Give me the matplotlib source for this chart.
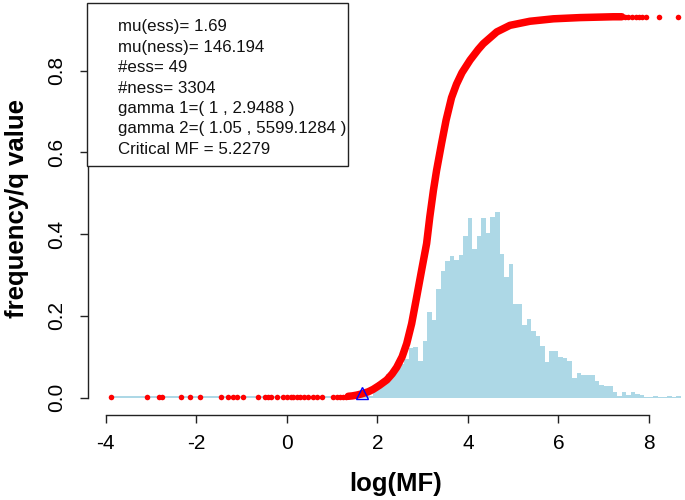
import numpy as np
import matplotlib
matplotlib.use("Agg")
import matplotlib.pyplot as plt
from matplotlib.patches import Rectangle

plt.rcParams['font.family'] = ['Liberation Sans', 'DejaVu Sans']

# ---------------- data ----------------
# histogram (density), bins of width 0.1 starting at 1.9
hist_start = 1.9
hist_width = 0.1
hist_heights = [0.021, 0.038, 0.043, 0.058, 0.065, 0.075, 0.082, 0.094, 0.120, 0.124,
                0.090, 0.139, 0.210, 0.190, 0.266, 0.310, 0.335, 0.346, 0.337, 0.349,
                0.396, 0.439, 0.364, 0.396, 0.439, 0.402, 0.441, 0.453, 0.351, 0.294,
                0.327, 0.229, 0.229, 0.177, 0.192, 0.164, 0.151, 0.127, 0.088, 0.115,
                0.115, 0.098, 0.096, 0.089, 0.048, 0.060, 0.055, 0.055, 0.055, 0.041,
                0.031, 0.029, 0.027, 0.013, 0.004, 0.013, 0.006, 0.013, 0.009, 0.006,
                0.002, 0.002, 0.004, 0.002, 0.002, 0.004, 0.002, 0.004]
# thin low tail of the histogram
tail_left = -3.9
tail_right = 1.9
tail_height = 0.003

# sparse q-values on the left
left_x = [-3.88, -3.09, -2.81, -2.76, -2.34, -2.13, -1.91, -1.46, -1.29, -1.19,
          -1.10, -0.97, -0.63, -0.48, -0.41, -0.35, -0.22, -0.09, 0.0, 0.09,
          0.15, 0.22, 0.29, 0.38, 0.48, 0.57, 0.66, 0.77, 1.03, 1.10, 1.18, 1.25, 1.32]
left_q = [0.002] * len(left_x)

# dense q-value curve
curve_x = [1.36, 1.45, 1.55, 1.66, 1.80, 1.91, 2.05, 2.21, 2.33, 2.43, 2.55, 2.65,
           2.76, 2.87, 2.98, 3.09, 3.16, 3.24, 3.31, 3.42, 3.52, 3.64, 3.75, 3.87,
           4.05, 4.23, 4.34, 4.64, 4.93, 5.37, 5.89, 6.48, 7.21, 7.40]
curve_q = [0.003, 0.004, 0.006, 0.009, 0.014, 0.020, 0.030, 0.043, 0.058, 0.074,
           0.100, 0.132, 0.181, 0.246, 0.312, 0.377, 0.442, 0.507, 0.556, 0.622,
           0.679, 0.734, 0.767, 0.795, 0.826, 0.852, 0.866, 0.895, 0.911, 0.921,
           0.927, 0.930, 0.932, 0.932]

# sparse q-values on the right
right_x = [7.47, 7.54, 7.63, 7.71, 7.78, 7.85, 7.93, 8.23, 8.65]
right_q = [0.932] * len(right_x)

# critical point (blue triangle)
crit_x = 1.66
crit_q = 0.01

x_ticks = [-4, -2, 0, 2, 4, 6, 8]
x_ticklabels = ["-4", "-2", "0", "2", "4", "6", "8"]
y_ticks = [0.0, 0.2, 0.4, 0.6, 0.8]
y_ticklabels = ["0.0", "0.2", "0.4", "0.6", "0.8"]

legend_lines = ["mu(ess)= 1.69",
                "mu(ness)= 146.194",
                "#ess= 49",
                "#ness= 3304",
                "gamma 1=( 1 , 2.9488 )",
                "gamma 2=( 1.05 , 5599.1284 )",
                "Critical MF = 5.2279"]

# ---------------- figure ----------------
W, H = 685, 500
fig = plt.figure(figsize=(W / 100, H / 100), dpi=100)
ax_left, ax_right, ax_top, ax_bottom = 88, 685, 3, 415
ax = fig.add_axes([ax_left / W, 1 - ax_bottom / H,
                   (ax_right - ax_left) / W, (ax_bottom - ax_top) / H])

hist_color = "#ADD8E6"
bin_lefts = hist_start + hist_width * np.arange(len(hist_heights))
ax.bar(bin_lefts, hist_heights, width=hist_width, align='edge',
       color=hist_color, linewidth=0, zorder=1)
ax.bar([tail_left], [tail_height], width=tail_right - tail_left, align='edge',
       color=hist_color, linewidth=0, zorder=1)

ax.plot(curve_x, curve_q, '-', color='#FF0000', lw=5.4, solid_capstyle='round',
        solid_joinstyle='round', zorder=2)
ax.plot(left_x, left_q, 'o', color='#FF0000', ms=4.0, mew=0, zorder=2)
ax.plot(right_x, right_q, 'o', color='#FF0000', ms=4.0, mew=0, zorder=2)

ax.plot([crit_x], [crit_q], '^', ms=9, mfc='none', mec='#0000FF', mew=1.0, zorder=3)

ax.set_xlim(-4.388, 8.796)
ax.set_ylim(-0.0428, 0.9657)

for s in ['top', 'right']:
    ax.spines[s].set_visible(False)
ax.spines['left'].set_bounds(0.0, 0.8)
ax.spines['bottom'].set_bounds(-4, 8)
for s in ['left', 'bottom']:
    ax.spines[s].set_linewidth(1.0)
    ax.spines[s].set_color('#222222')

ax.set_xticks(x_ticks)
ax.set_xticklabels(x_ticklabels)
ax.set_yticks(y_ticks)
ax.set_yticklabels(y_ticklabels)
ax.tick_params(axis='both', direction='out', length=6, width=1.0, color='#222222',
               labelsize=15, pad=8)
ax.tick_params(axis='y', labelrotation=90, pad=10)
for lab in ax.get_yticklabels():
    lab.set_va('center')

fig.text(396 / W, 1 - 484 / H, "log(MF)", ha='center', va='center',
         fontsize=18.5, fontweight='bold')
fig.text(17 / W, 1 - 209 / H, "frequency/q value", ha='center', va='center',
         rotation=90, fontsize=18.5, fontweight='bold')

# legend box
box_l, box_r, box_t, box_b = 87, 348, 3, 166
rect = Rectangle((box_l / W, 1 - box_b / H), (box_r - box_l) / W, (box_b - box_t) / H,
                 transform=fig.transFigure, facecolor='white', edgecolor='#222222',
                 linewidth=1.0, zorder=5)
fig.add_artist(rect)
for i, line in enumerate(legend_lines):
    y = 27 + i * 20.4
    t = fig.text(118 / W, 1 - y / H, line, ha='left', va='center', fontsize=12.2,
                 color='#111111')
    t.set_zorder(6)

fig.savefig("out.png", dpi=100)
